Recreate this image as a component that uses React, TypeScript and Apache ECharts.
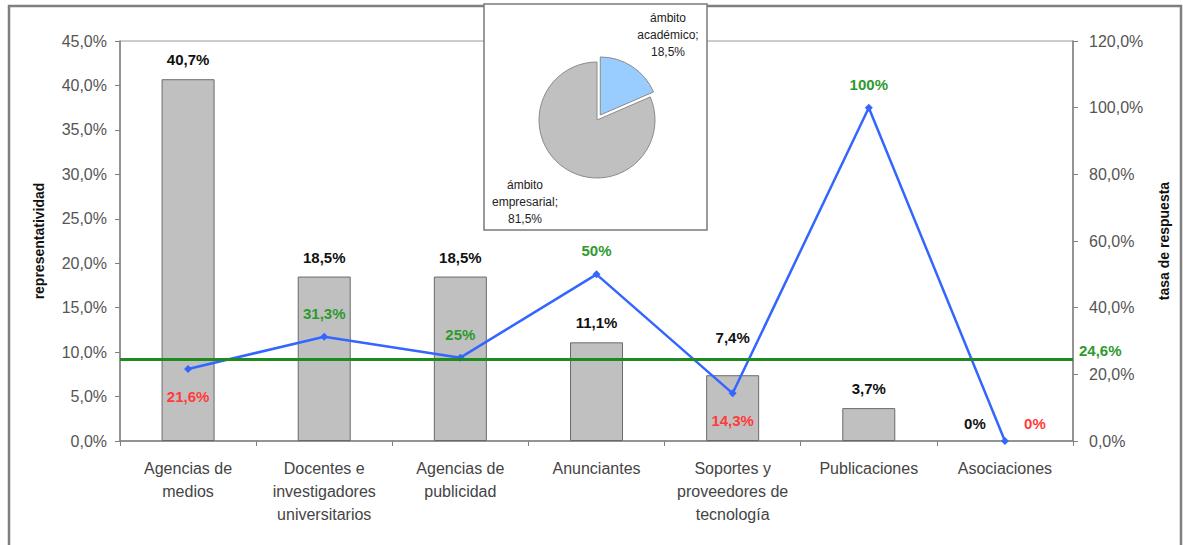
import React, { useEffect, useRef } from "react";
import * as echarts from "echarts";

const categories = [
  "Agencias de\nmedios",
  "Docentes e\ninvestigadores\nuniversitarios",
  "Agencias de\npublicidad",
  "Anunciantes",
  "Soportes y\nproveedores de\ntecnología",
  "Publicaciones",
  "Asociaciones",
];
const representatividad = [40.7, 18.5, 18.5, 11.1, 7.4, 3.7, 0];
const tasaRespuesta = [21.6, 31.3, 25, 50, 14.3, 100, 0];
const tasaMedia = 24.6;
const pieNames = ["ámbito\nacadémico", "ámbito\nempresarial"];
const pieValues = [18.5, 81.5];
const leftTicks = { min: 0, max: 45, interval: 5 };
const rightTicks = { min: 0, max: 120, interval: 20 };

const fmtDec = (v: number) => v.toFixed(1).replace(".", ",") + "%";
const fmtVal = (v: number) =>
  Number.isInteger(v) ? v + "%" : v.toFixed(1).replace(".", ",") + "%";

const FONT = "'Liberation Sans', Arial, sans-serif";
const GREEN = "#2e9a2e";
const RED = "#ff3b3b";

export default function App() {
  const ref = useRef<HTMLDivElement>(null);
  useEffect(() => {
    if (!ref.current) return;
    const chart = echarts.init(ref.current, null, { renderer: "svg" });
    const lastIdx = tasaRespuesta.length - 1;
    const lineData = tasaRespuesta.map((v, i) => {
      const above = v >= tasaMedia;
      const label: any = {
        position: above ? "top" : "bottom",
        color: above ? GREEN : RED,
        distance: above ? 12 : 16,
      };
      if (i === lastIdx) {
        label.position = "top";
        label.offset = [30, 10];
      }
      return { value: v, label };
    });
    const barData = representatividad.map((v, i) => {
      if (v === 0)
        return {
          value: v,
          itemStyle: { borderWidth: 0, color: "rgba(0,0,0,0)" },
          label: { offset: [-30, 2] },
        };
      if (i === 4) return { value: v, label: { offset: [0, -18] } };
      return { value: v };
    });
    const pieLabelText = (i: number) =>
      pieNames[i] + ";\n" + pieValues[i].toFixed(1).replace(".", ",") + "%";
    const pieLabelStyle = {
      fill: "#222",
      font: "12px 'Liberation Sans', Arial, sans-serif",
      lineHeight: 17,
      align: "center",
      verticalAlign: "middle",
    };
    chart.setOption({
      animation: false,
      textStyle: { fontFamily: FONT },
      grid: {
        left: 120,
        right: 110,
        top: 41,
        bottom: 104,
        show: true,
        borderColor: "#9a9a9a",
        borderWidth: 1,
      },
      graphic: [
        {
          type: "rect",
          z: -10,
          shape: { x: 9, y: 6, width: 1172, height: 560 },
          style: { fill: "#fff", stroke: "#7f7f7f", lineWidth: 2.5 },
          silent: true,
        },
        {
          type: "rect",
          z: 50,
          shape: { x: 484, y: 4, width: 223, height: 226 },
          style: { fill: "#fff", stroke: "#7a7a7a", lineWidth: 1.5 },
          silent: true,
        },
        {
          type: "text",
          z: 70,
          x: 668,
          y: 35,
          style: { ...pieLabelStyle, text: pieLabelText(0) },
          silent: true,
        },
        {
          type: "text",
          z: 70,
          x: 525,
          y: 202,
          style: { ...pieLabelStyle, text: pieLabelText(1) },
          silent: true,
        },
      ],
      xAxis: {
        type: "category",
        data: categories,
        boundaryGap: true,
        axisLine: { lineStyle: { color: "#808080", width: 1.5 } },
        axisTick: { show: true, length: 5, lineStyle: { color: "#808080" } },
        axisLabel: {
          color: "#444",
          fontSize: 16,
          lineHeight: 23,
          margin: 16,
          interval: 0,
          fontFamily: FONT,
        },
      },
      yAxis: [
        {
          type: "value",
          ...leftTicks,
          name: "representatividad",
          nameLocation: "middle",
          nameGap: 74,
          nameTextStyle: {
            fontWeight: "bold",
            fontSize: 14,
            color: "#111",
            fontFamily: FONT,
          },
          axisLine: { show: true, lineStyle: { color: "#808080", width: 1.5 } },
          axisTick: { show: true, length: 5, lineStyle: { color: "#808080" } },
          splitLine: { show: false },
          axisLabel: {
            formatter: fmtDec,
            color: "#555",
            fontSize: 16,
            margin: 13,
            fontFamily: FONT,
          },
        },
        {
          type: "value",
          ...rightTicks,
          name: "tasa de respuesta",
          nameLocation: "middle",
          nameGap: 84,
          nameRotate: 90,
          nameTextStyle: {
            fontWeight: "bold",
            fontSize: 14,
            color: "#111",
            fontFamily: FONT,
          },
          axisLine: { show: true, lineStyle: { color: "#808080", width: 1.5 } },
          axisTick: { show: true, length: 5, lineStyle: { color: "#808080" } },
          splitLine: { show: false },
          axisLabel: {
            formatter: fmtDec,
            color: "#555",
            fontSize: 16,
            margin: 16,
            fontFamily: FONT,
          },
        },
      ],
      series: [
        {
          type: "bar",
          data: barData,
          yAxisIndex: 0,
          barWidth: 53,
          itemStyle: { color: "#c0c0c0", borderColor: "#6a6a6a", borderWidth: 1 },
          label: {
            show: true,
            position: "top",
            distance: 12,
            formatter: (p: any) => fmtVal(p.value),
            color: "#111",
            fontWeight: "bold",
            fontSize: 15,
            fontFamily: FONT,
          },
          z: 2,
        },
        {
          type: "line",
          data: lineData,
          yAxisIndex: 1,
          symbol: "diamond",
          symbolSize: 8,
          lineStyle: { color: "#3366ff", width: 2.5 },
          itemStyle: { color: "#3366ff" },
          label: {
            show: true,
            formatter: (p: any) => fmtVal(p.value),
            fontWeight: "bold",
            fontSize: 15,
            fontFamily: FONT,
          },
          markLine: {
            silent: true,
            symbol: "none",
            lineStyle: { color: "#1f8a1f", width: 3, type: "solid" },
            label: {
              show: true,
              position: "end",
              formatter: () => fmtDec(tasaMedia),
              color: GREEN,
              fontWeight: "bold",
              fontSize: 15,
              fontFamily: FONT,
              distance: 6,
              offset: [0, -9],
            },
            data: [{ yAxis: tasaMedia }],
          },
          z: 3,
        },
        {
          type: "pie",
          center: [597, 120],
          radius: 58,
          startAngle: 90,
          clockwise: true,
          z: 60,
          selectedMode: "single",
          selectedOffset: 6,
          itemStyle: { borderColor: "#8a8a8a", borderWidth: 1 },
          label: { show: false },
          labelLine: { show: false },
          data: [
            { name: pieNames[0], value: pieValues[0], selected: true, itemStyle: { color: "#99ccff" } },
            { name: pieNames[1], value: pieValues[1], itemStyle: { color: "#c0c0c0" } },
          ],
        },
      ],
    });
    return () => chart.dispose();
  }, []);
  return (
    <div
      ref={ref}
      style={{ position: "absolute", left: 0, top: 0, width: 1183, height: 545, background: "#fff" }}
    />
  );
}
